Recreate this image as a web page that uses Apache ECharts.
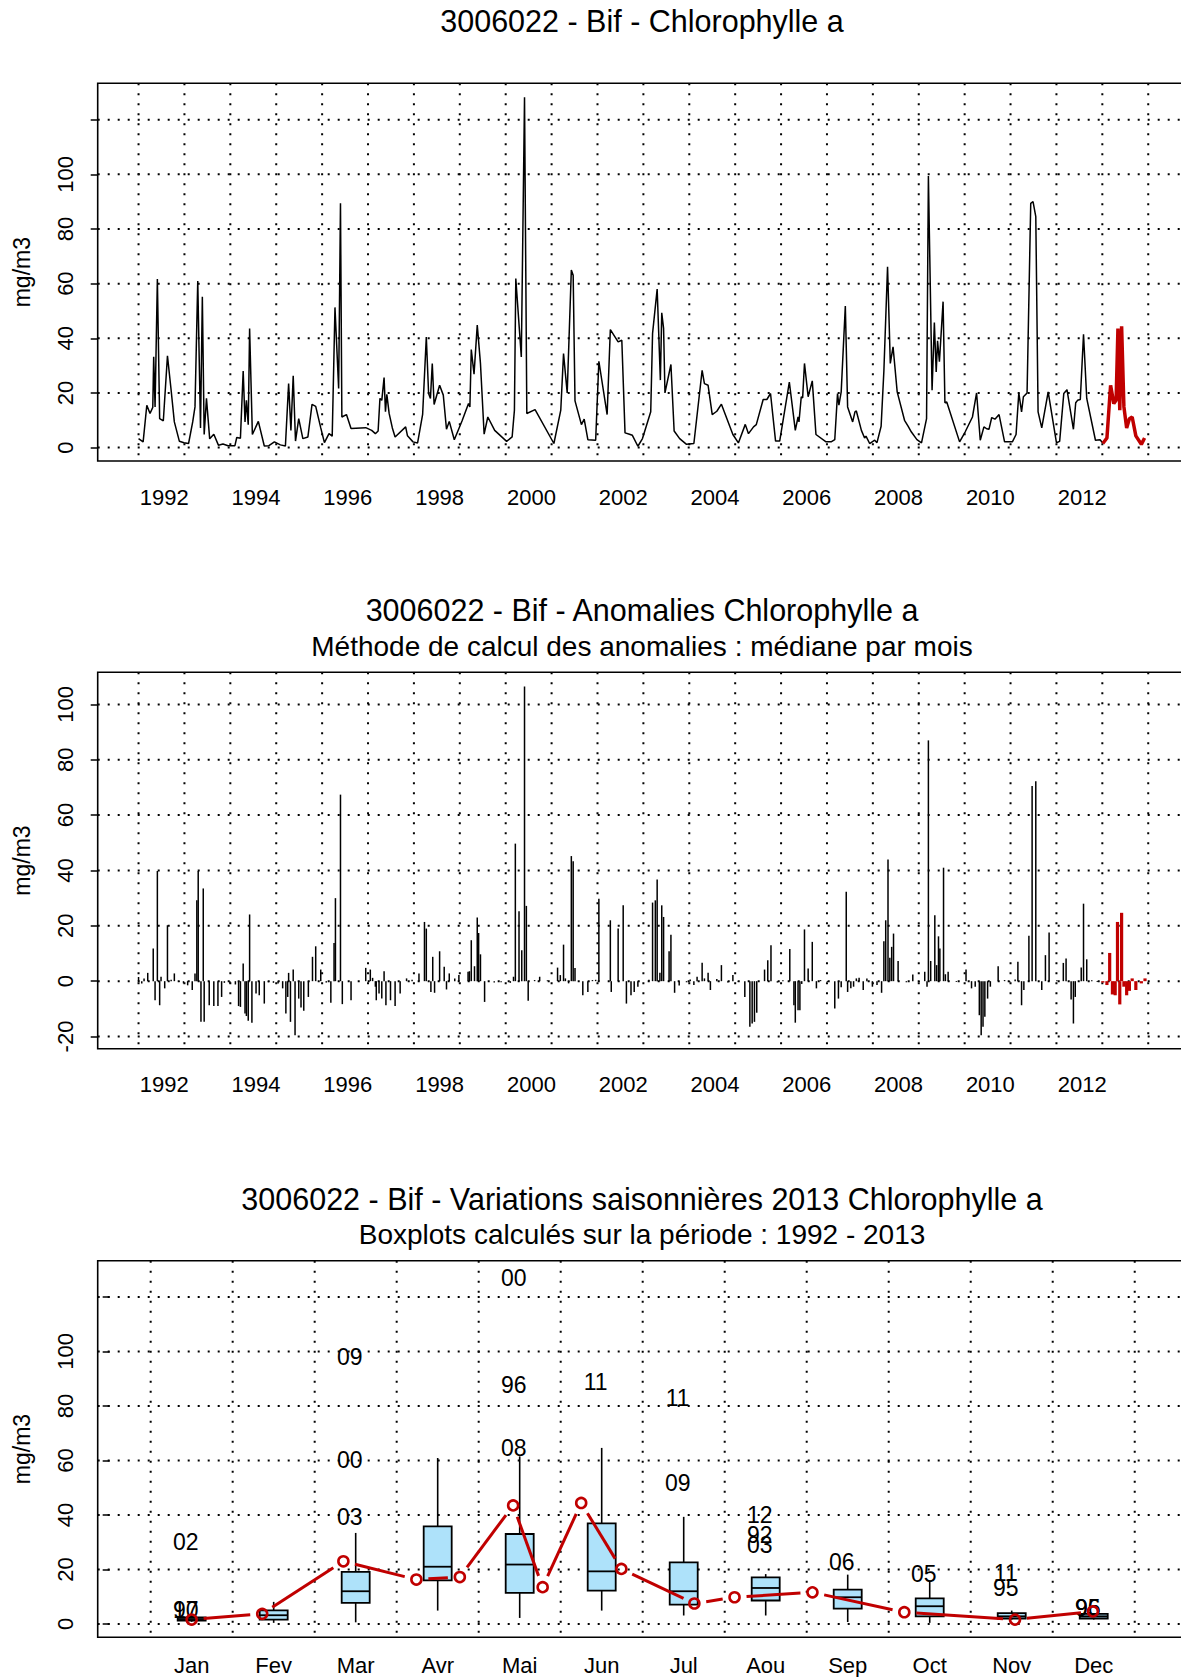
<!DOCTYPE html>
<html>
<head>
<meta charset="utf-8">
<script src="https://cdn.jsdelivr.net/npm/echarts@6/dist/echarts.min.js"></script>
<style>
  html, body { margin: 0; padding: 0; background: #fff; }
  #chart { width: 1181px; height: 1677px; }
</style>
</head>
<body>
<div id="chart"></div>
<script>
// --- top panel: chlorophyll a (mg/m3), decimal year / value
const chlDates = [1991.44,1991.54,1991.62,1991.69,1991.75,1991.77,1991.80,1991.85,1991.90,1991.98,
  1992.07,1992.15,1992.22,1992.33,1992.43,1992.53,1992.62,1992.67,1992.73,1992.79,1992.83,1992.87,1992.92,1992.99,
  1993.08,1993.18,1993.28,1993.39,1993.54,1993.58,1993.66,1993.72,1993.76,1993.79,1993.83,1993.86,1993.92,
  1994.05,1994.18,1994.28,1994.40,1994.53,1994.64,1994.71,1994.76,1994.81,1994.86,1994.93,
  1995.02,1995.13,1995.22,1995.30,1995.41,1995.49,1995.59,1995.66,1995.72,1995.80,1995.84,1995.87,1995.97,
  1996.07,1996.39,1996.52,1996.60,1996.66,1996.70,1996.74,1996.79,1996.82,1996.85,1996.90,1996.97,
  1997.03,1997.26,1997.30,1997.42,1997.52,1997.63,1997.71,1997.76,1997.80,1997.84,1997.88,
  1998.00,1998.08,1998.15,1998.21,1998.32,1998.49,1998.63,1998.66,1998.69,1998.75,1998.82,1998.89,1998.97,
  1999.05,1999.20,1999.46,1999.58,1999.63,1999.66,1999.78,1999.85,1999.90,
  2000.08,2000.49,2000.64,2000.70,2000.78,2000.87,2000.91,2000.95,
  2001.09,2001.15,2001.23,2001.40,2001.47,2001.65,2001.72,2001.89,2001.97,
  2002.04,2002.12,2002.20,2002.32,2002.42,2002.60,2002.64,2002.74,2002.81,2002.84,2002.88,2002.91,
  2003.04,2003.11,2003.23,2003.38,2003.54,2003.72,2003.77,2003.85,2003.94,
  2004.04,2004.14,2004.39,2004.51,2004.66,2004.73,2004.84,2004.90,
  2005.05,2005.13,2005.21,2005.32,2005.41,2005.62,2005.75,2005.81,2005.83,2005.88,2005.91,2005.95,
  2006.03,2006.12,2006.20,2006.42,2006.53,2006.61,2006.67,2006.70,2006.75,2006.84,2006.89,
  2007.00,2007.05,2007.08,2007.19,2007.26,2007.29,2007.37,2007.48,2007.53,2007.62,2007.68,2007.76,2007.82,2007.88,2007.97,
  2008.13,2008.21,2008.28,2008.40,2008.50,2008.61,2008.65,2008.73,2008.78,2008.82,2008.85,2008.89,2008.97,
  2009.01,2009.05,2009.33,2009.45,2009.61,2009.70,2009.78,2009.86,2009.92,2009.97,
  2010.03,2010.10,2010.19,2010.31,2010.48,2010.56,2010.62,2010.68,2010.72,2010.80,2010.88,2010.93,2010.99,
  2011.04,2011.12,2011.26,2011.44,2011.51,2011.60,2011.67,2011.81,2011.86,2011.90,2011.96,
  2012.03,2012.10,2012.29,2012.39,2012.45];
const chlValues = [3.3,2.1,15.5,12.5,14.7,33.2,14.9,61.7,10.6,9.8,
  33.6,21.0,9.4,2.3,1.8,1.5,9.4,14.9,61.0,7.2,55.2,4.8,18.0,3.2,
  4.9,0.9,1.3,0.7,0.7,3.7,3.4,28.0,9.4,17.3,8.4,43.6,4.8,
  9.6,0.6,0.7,2.1,1.0,0.6,23.4,6.3,26.3,2.4,10.6,
  3.3,3.9,15.8,15.1,7.2,1.8,5.1,4.2,51.3,21.6,89.4,11.2,12.1,
  7.0,7.3,6.3,5.1,6.1,18.0,17.3,25.6,13.1,19.5,12.5,7.2,
  3.9,7.6,4.3,2.1,1.7,12.2,40.5,19.8,18.0,30.8,15.8,
  22.8,19.2,6.7,9.6,2.9,9.8,16.1,14.9,35.9,26.9,44.8,30.8,4.9,
  11.2,6.3,2.3,3.9,13.7,61.9,33.2,128.2,12.5,
  13.9,1.5,13.7,34.4,20.0,65.0,63.1,17.1,
  8.4,10.4,2.9,2.7,31.6,12.1,43.2,38.7,39.3,
  5.4,5.0,4.5,0.5,3.3,13.1,41.8,58.0,24.7,49.3,43.6,20.0,
  30.4,6.1,3.3,1.2,1.5,28.3,23.4,22.8,12.1,
  13.3,15.9,4.8,1.7,8.5,5.1,7.6,8.4,
  17.6,17.6,19.8,2.4,2.4,24.0,6.3,11.2,9.4,18.6,18.2,30.8,
  18.6,24.4,4.8,2.1,2.1,2.9,19.8,15.5,20.4,51.8,14.9,
  9.4,13.1,13.4,6.3,3.5,4.2,1.5,2.7,1.8,7.8,28.0,66.2,30.8,36.9,20.4,
  10.0,7.8,5.7,2.9,1.7,10.6,99.4,21.0,45.8,27.7,39.1,31.4,53.4,
  16.4,16.7,2.1,5.7,11.2,20.0,2.7,7.6,6.9,6.7,
  11.0,10.4,12.1,2.1,2.1,4.8,20.0,13.1,18.6,20.0,89.4,90.0,84.5,
  13.1,7.2,20.4,1.8,2.3,19.8,21.2,6.7,16.4,17.3,17.6,
  41.5,18.0,2.7,2.9,1.7];
const chl2013Dates = [2012.45,2012.54,2012.62,2012.69,2012.74,2012.78,2012.82,2012.86,2012.91,2012.97,2013.03,2013.09,2013.17,2013.29,2013.36];
const chl2013Values = [1.5,3.5,22.8,16.1,17.3,43.6,13.7,44.4,14.9,7.2,10.6,11.2,4.3,1.2,3.5];

// --- middle panel: anomalies (value - monthly median)
const anomDates = [1991.44,1991.51,1991.56,1991.64,1991.76,1991.80,1991.85,1991.90,1991.93,
  1992.01,1992.07,1992.15,1992.22,1992.32,1992.42,1992.51,1992.61,1992.67,1992.71,1992.74,1992.80,1992.85,1992.87,1992.98,
  1993.08,1993.17,1993.25,1993.31,1993.43,1993.55,1993.62,1993.66,1993.72,1993.76,1993.79,1993.83,1993.86,1993.91,
  1994.00,1994.07,1994.18,1994.27,1994.38,1994.48,1994.58,1994.65,1994.69,1994.71,1994.75,1994.81,1994.85,1994.93,1994.98,
  1995.04,1995.14,1995.23,1995.30,1995.41,1995.53,1995.63,1995.70,1995.73,1995.84,1995.88,
  1996.07,1996.39,1996.49,1996.54,1996.60,1996.62,1996.68,1996.74,1996.79,1996.83,1996.93,
  1997.03,1997.14,1997.28,1997.40,1997.55,1997.67,1997.71,1997.81,1997.85,1997.89,
  1998.00,1998.10,1998.15,1998.21,1998.33,1998.42,1998.62,1998.65,1998.69,1998.76,1998.82,1998.85,1998.89,1998.98,
  1999.19,1999.34,1999.54,1999.61,1999.65,1999.73,1999.79,1999.85,1999.89,1999.93,
  2000.07,2000.18,2000.35,2000.57,2000.63,2000.70,2000.74,2000.81,2000.87,2000.91,2000.95,
  2001.12,2001.23,2001.33,2001.40,2001.47,2001.72,2001.74,2001.89,
  2002.00,2002.07,2002.17,2002.24,2002.32,2002.56,2002.64,2002.70,2002.74,2002.80,2002.84,2002.88,
  2003.00,2003.04,2003.12,2003.22,2003.38,2003.46,2003.54,2003.61,2003.72,2003.77,2003.85,2003.90,
  2004.04,2004.14,2004.28,2004.39,2004.51,2004.65,2004.76,2004.81,2004.86,2004.91,
  2005.08,2005.15,2005.22,2005.36,2005.48,2005.63,2005.72,2005.75,2005.81,2005.85,2005.89,2005.95,
  2006.03,2006.12,2006.21,2006.30,2006.45,2006.61,2006.69,2006.75,2006.86,2006.89,2006.96,
  2007.02,2007.08,2007.14,2007.23,2007.31,2007.43,2007.53,2007.63,2007.68,2007.72,2007.77,2007.81,2007.85,2007.89,2007.99,
  2008.17,2008.31,2008.45,2008.57,2008.62,2008.65,2008.70,2008.79,2008.83,2008.87,2008.90,2008.98,
  2009.02,2009.08,2009.26,2009.47,2009.59,2009.67,2009.76,2009.80,2009.84,2009.88,2009.94,
  2010.00,2010.17,2010.31,2010.42,2010.54,2010.60,2010.68,2010.73,2010.84,2010.91,2010.99,
  2011.12,2011.20,2011.28,2011.45,2011.59,2011.65,2011.76,2011.81,2011.85,2011.98,
  2012.03,2012.10,2012.21,2012.33];
const anomValues = [1.5,-0.8,1.0,3.0,11.8,-6.9,39.8,-8.7,1.6,
  -2.6,20.2,0.5,2.8,-0.3,-0.8,-1.5,-3.2,2.8,29.2,39.8,-14.7,33.5,-14.7,-8.7,
  -9.0,-9.0,-5.7,-0.6,-0.8,-1.2,-9.0,-9.3,6.4,-11.7,-12.6,-14.3,24.1,-15.0,
  -4.5,-5.1,-8.1,-0.4,-0.6,-0.8,-2.6,-11.7,-5.7,3.0,-14.7,4.2,-19.5,-6.3,-9.5,
  -10.7,-5.7,8.8,12.6,4.2,-0.5,-7.8,13.8,30.0,67.4,-8.3,
  -6.9,4.8,4.2,1.2,-2.0,-6.9,-4.5,-6.3,3.6,-8.7,-6.9,
  -9.0,-4.5,1.0,0.5,2.8,21.4,19.0,-3.9,8.8,-4.2,
  10.8,5.2,-3.0,2.8,1.0,2.2,3.4,3.6,14.8,5.4,23.0,17.4,9.7,-7.5,
  -0.5,-0.4,-0.6,1.6,49.7,25.3,11.2,106.5,27.2,-7.1,
  0.4,1.6,0.3,4.9,2.2,13.2,1.0,-0.8,45.2,43.3,4.8,
  -5.1,-3.9,0.4,0.5,29.8,22.0,-3.9,19.0,
  27.4,-8.1,-5.1,-3.9,-2.0,0.5,28.4,29.2,36.7,3.0,27.4,23.2,
  10.8,16.8,-4.2,-1.6,-0.4,0.6,-1.4,1.6,6.7,1.0,3.0,-3.2,
  0.8,5.8,-0.5,2.2,-0.3,-5.7,-16.5,-15.3,-14.7,-11.4,
  4.2,7.6,13.0,-0.5,0.3,11.6,-8.7,-15.0,-10.5,-10.5,-1.0,18.7,
  4.6,14.2,-2.6,0.4,-0.3,-9.9,-6.3,-2.2,32.3,-3.9,-2.6,
  -2.0,1.0,1.2,-3.2,1.0,-2.0,-1.4,-4.2,14.4,22.0,44.0,8.5,12.4,17.2,7.3,
  -0.4,2.4,-0.3,3.4,-2.0,87.0,7.3,23.8,5.8,16.2,11.8,41.0,
  2.5,3.4,-0.3,4.2,-2.6,-2.0,-12.3,-19.5,-16.5,-12.9,-6.3,
  -2.0,5.4,0.4,-0.4,0.6,7.0,-8.7,-3.2,16.4,70.5,72.2,
  -3.2,9.4,17.6,0.3,6.6,8.2,-6.6,-15.3,-5.7,4.9,
  28.0,7.9,0.3,-0.3];
const anom2013Dates = [2012.45,2012.54,2012.60,2012.66,2012.72,2012.77,2012.82,2012.86,2012.91,2012.97,2013.03,2013.09,2013.17,2013.29,2013.37];
const anom2013Values = [-0.5,-1.4,10.2,-4.8,-5.1,21.4,-8.4,24.7,-2.0,-5.1,-3.5,1.0,-3.2,-0.8,1.0];

// --- bottom panel: monthly boxplots 1992-2013
const months = ['Jan','Fev','Mar','Avr','Mai','Jun','Jul','Aou','Sep','Oct','Nov','Dec'];
const boxLow  = [0.8, 0.4, 0.6, 4.9, 2.2, 4.9, 3.1, 3.1, 0.7, 0.4, 1.6, 1.6];
const boxQ1   = [1.2, 1.6, 7.7, 16.0, 11.4, 12.2, 7.1, 8.6, 5.6, 2.8, 2.0, 2.0];
const boxMed  = [1.8, 3.2, 12.0, 21.0, 21.8, 19.3, 12.0, 13.2, 9.8, 6.5, 2.8, 2.8];
const boxQ3   = [2.4, 5.0, 19.1, 35.8, 33.0, 36.9, 22.6, 17.1, 12.6, 9.4, 4.0, 3.7];
const boxHigh = [3.0, 8.1, 33.4, 60.9, 61.5, 64.6, 39.3, 18.3, 18.1, 15.4, 4.9, 4.0];
const outMonth = [1, 1, 1, 3, 3, 3, 5, 5, 5, 6, 7, 7, 8, 8, 8, 9, 10, 11, 11, 12, 12];
const outValue = [30.1, 5.0, 5.0, 39.3, 60.3, 98.0, 64.6, 87.8, 127.0, 88.7, 51.7, 82.9, 29.1, 32.6, 40.1, 22.6, 18.3, 13.2, 18.7, 5.9, 5.9];
const outLabel = ['02','97','10','03','00','09','08','96','00','11','09','11','03','92','12','06','05','95','11','95','96'];
const obs2013Month = [1.00, 1.86, 2.85, 3.74, 4.27, 4.92, 5.28, 5.75, 6.24, 7.13, 7.62, 8.57, 9.69, 11.04, 11.99];
const obs2013Value = [1.6, 3.7, 23.0, 16.3, 17.2, 43.5, 13.5, 44.4, 20.2, 7.5, 9.8, 11.6, 4.3, 1.6, 4.6];

const yearLabels = [1992, 1994, 1996, 1998, 2000, 2002, 2004, 2006, 2008, 2010, 2012];
const concTicks = [0, 20, 40, 60, 80, 100, 120];
const concLabels = [0, 20, 40, 60, 80, 100];
const anomTicks = [-20, 0, 20, 40, 60, 80, 100];

const FONT = '"Liberation Sans", Arial, Helvetica, sans-serif';
const RED = '#C00000';
const BOXFILL = '#AEE2FA';

// yearly dotted lines start at the first sample date
const yearGrid = [];
for (let k = 0; k <= 22; k++) yearGrid.push(1991.44 + k);
const monthGrid = [];
for (let k = 0; k <= 12; k++) monthGrid.push(0.5 + k);

const chart = echarts.init(document.getElementById('chart'), null, { renderer: 'svg', width: 1181, height: 1677 });

function gridBox(top, height) {
  return { left: 97.7, top, width: 1090, height, show: true, borderColor: '#000', borderWidth: 1.6,
    backgroundColor: 'transparent', containLabel: false, outerBoundsMode: 'none' };
}

function timeAxis(gi) {
  return {
    type: 'value', gridIndex: gi, min: 1990.55, max: 2014.30,
    axisLine: { show: false }, axisTick: { show: false }, splitLine: { show: false },
    axisLabel: { customValues: yearLabels, margin: 25, fontSize: 22, color: '#000', fontFamily: FONT,
      formatter: v => String(v) }
  };
}

function concAxis(gi, min, max, ticks, labels) {
  return {
    type: 'value', gridIndex: gi, min, max,
    name: 'mg/m3', nameLocation: 'middle', nameGap: 64, nameRotate: 90,
    nameTextStyle: { fontSize: 23, color: '#000', fontFamily: FONT },
    axisLine: { show: false },
    axisTick: { show: true, length: 7, customValues: ticks, lineStyle: { color: '#000', width: 1.5 } },
    axisLabel: { customValues: labels, rotate: 90, margin: 21, fontSize: 22, color: '#000', fontFamily: FONT,
      formatter: v => String(v) },
    splitLine: { show: false }
  };
}

function dotted(gi, xs, ys) {
  return {
    type: 'custom', xAxisIndex: gi, yAxisIndex: gi, silent: true, z: 1,
    data: [[xs[1], ys[1]]],
    renderItem(params, api) {
      const cs = params.coordSys;
      const style = { stroke: '#000', lineWidth: 2, lineDash: [2, 8] };
      const children = [];
      xs.forEach(x => {
        const px = api.coord([x, ys[0]])[0];
        children.push({ type: 'line', shape: { x1: px, y1: cs.y, x2: px, y2: cs.y + cs.height }, style });
      });
      ys.forEach(y => {
        const py = api.coord([xs[0], y])[1];
        children.push({ type: 'line', shape: { x1: cs.x, y1: py, x2: cs.x + cs.width, y2: py }, style });
      });
      return { type: 'group', children };
    }
  };
}

function stems(gi, dates, vals, color, width) {
  return {
    type: 'custom', xAxisIndex: gi, yAxisIndex: gi, z: 3, silent: true,
    data: dates.map((d, i) => [d, vals[i]]),
    renderItem(params, api) {
      const p0 = api.coord([api.value(0), 0]);
      const p1 = api.coord([api.value(0), api.value(1)]);
      return { type: 'line', shape: { x1: p0[0], y1: p0[1], x2: p1[0], y2: p1[1] },
        style: { stroke: color, lineWidth: width } };
    }
  };
}

const titles = [
  ['3006022 - Bif - Chlorophylle a', 21.4, 30.5],
  ['3006022 - Bif - Anomalies Chlorophylle a', 609.7, 30.5],
  ['Méthode de calcul des anomalies : médiane par mois', 646.1, 28],
  ['3006022 - Bif - Variations saisonnières 2013 Chlorophylle a', 1199.1, 30.5],
  ['Boxplots calculés sur la période : 1992 - 2013', 1234.4, 28]
];

const option = {
  animation: false,
  backgroundColor: '#fff',
  textStyle: { fontFamily: FONT, color: '#000' },
  graphic: titles.map(t => ({
    type: 'text', x: 642, y: t[1], silent: true,
    style: { text: t[0], fill: '#000', font: t[2] + 'px ' + FONT,
      textAlign: 'center', textVerticalAlign: 'middle', align: 'center', verticalAlign: 'middle' }
  })),
  grid: [gridBox(83.3, 377.7), gridBox(672.3, 376.4), gridBox(1260.7, 376.6)],
  xAxis: [
    timeAxis(0),
    timeAxis(1),
    {
      type: 'value', gridIndex: 2, min: -0.146, max: 13.146,
      axisLine: { show: false }, axisTick: { show: false }, splitLine: { show: false },
      axisLabel: { customValues: [1,2,3,4,5,6,7,8,9,10,11,12], margin: 17, fontSize: 22, color: '#000',
        fontFamily: FONT, formatter: v => months[Math.round(v) - 1] }
    }
  ],
  yAxis: [
    concAxis(0, -4.9, 133.3, concTicks, concLabels),
    concAxis(1, -24.4, 111.6, anomTicks, anomTicks),
    concAxis(2, -4.9, 133.3, concTicks, concLabels)
  ],
  series: [
    dotted(0, yearGrid, concTicks),
    dotted(1, yearGrid, anomTicks),
    dotted(2, monthGrid, concTicks),
    {
      type: 'line', xAxisIndex: 0, yAxisIndex: 0, z: 3, silent: true,
      data: chlDates.map((d, i) => [d, chlValues[i]]),
      showSymbol: false, symbol: 'none',
      lineStyle: { color: '#000', width: 1.5 }
    },
    {
      type: 'line', xAxisIndex: 0, yAxisIndex: 0, z: 4, silent: true,
      data: chl2013Dates.map((d, i) => [d, chl2013Values[i]]),
      showSymbol: false, symbol: 'none',
      lineStyle: { color: RED, width: 3.5 }
    },
    stems(1, anomDates, anomValues, '#000', 1.5),
    stems(1, anom2013Dates, anom2013Values, RED, 3.2),
    {
      // monthly boxes
      type: 'custom', xAxisIndex: 2, yAxisIndex: 2, z: 3, silent: true,
      data: months.map((m, i) => [i + 1, boxLow[i], boxQ1[i], boxMed[i], boxQ3[i], boxHigh[i]]),
      renderItem(params, api) {
        const m = api.value(0);
        const lo = api.coord([m, api.value(1)]);
        const q1 = api.coord([m, api.value(2)]);
        const md = api.coord([m, api.value(3)]);
        const q3 = api.coord([m, api.value(4)]);
        const hi = api.coord([m, api.value(5)]);
        const x = lo[0], hw = 14;
        const ln = { stroke: '#000', lineWidth: 1.6 };
        return { type: 'group', children: [
          { type: 'line', shape: { x1: x, y1: q3[1], x2: x, y2: hi[1] }, style: ln },
          { type: 'line', shape: { x1: x, y1: q1[1], x2: x, y2: lo[1] }, style: ln },
          { type: 'rect', shape: { x: x - hw, y: q3[1], width: 2 * hw, height: q1[1] - q3[1] },
            style: { fill: BOXFILL, stroke: '#000', lineWidth: 1.8 } },
          { type: 'line', shape: { x1: x - hw, y1: md[1], x2: x + hw, y2: md[1] }, style: { stroke: '#000', lineWidth: 1.8 } }
        ] };
      }
    },
    {
      // year labels of outliers
      type: 'custom', xAxisIndex: 2, yAxisIndex: 2, z: 5, silent: true,
      data: outMonth.map((m, i) => [m, outValue[i]]),
      renderItem(params, api) {
        const p = api.coord([api.value(0), api.value(1)]);
        return { type: 'text', x: p[0] - 6, y: p[1],
          style: { text: outLabel[params.dataIndex], fill: '#000', font: '23px ' + FONT,
            textAlign: 'center', textVerticalAlign: 'middle', align: 'center', verticalAlign: 'middle' } };
      }
    },
    {
      // 2013 line, drawn with gaps around the points
      type: 'custom', xAxisIndex: 2, yAxisIndex: 2, z: 6, silent: true,
      data: obs2013Month.map((m, i) => [m, obs2013Value[i]]),
      renderItem(params, api) {
        const i = params.dataIndex;
        if (i === 0) return null;
        const a = api.coord([obs2013Month[i - 1], obs2013Value[i - 1]]);
        const b = api.coord([api.value(0), api.value(1)]);
        const dx = b[0] - a[0], dy = b[1] - a[1];
        const len = Math.sqrt(dx * dx + dy * dy);
        const gap = 12;
        if (len <= 2 * gap) return null;
        const ux = dx / len, uy = dy / len;
        return { type: 'line',
          shape: { x1: a[0] + ux * gap, y1: a[1] + uy * gap, x2: b[0] - ux * gap, y2: b[1] - uy * gap },
          style: { stroke: RED, lineWidth: 3 } };
      }
    },
    {
      type: 'scatter', xAxisIndex: 2, yAxisIndex: 2, z: 7, silent: true,
      data: obs2013Month.map((m, i) => [m, obs2013Value[i]]),
      symbol: 'circle', symbolSize: 10,
      itemStyle: { color: 'rgba(255,255,255,0)', borderColor: RED, borderWidth: 2.6, opacity: 1 }
    }
  ]
};

chart.setOption(option);
</script>
</body>
</html>
